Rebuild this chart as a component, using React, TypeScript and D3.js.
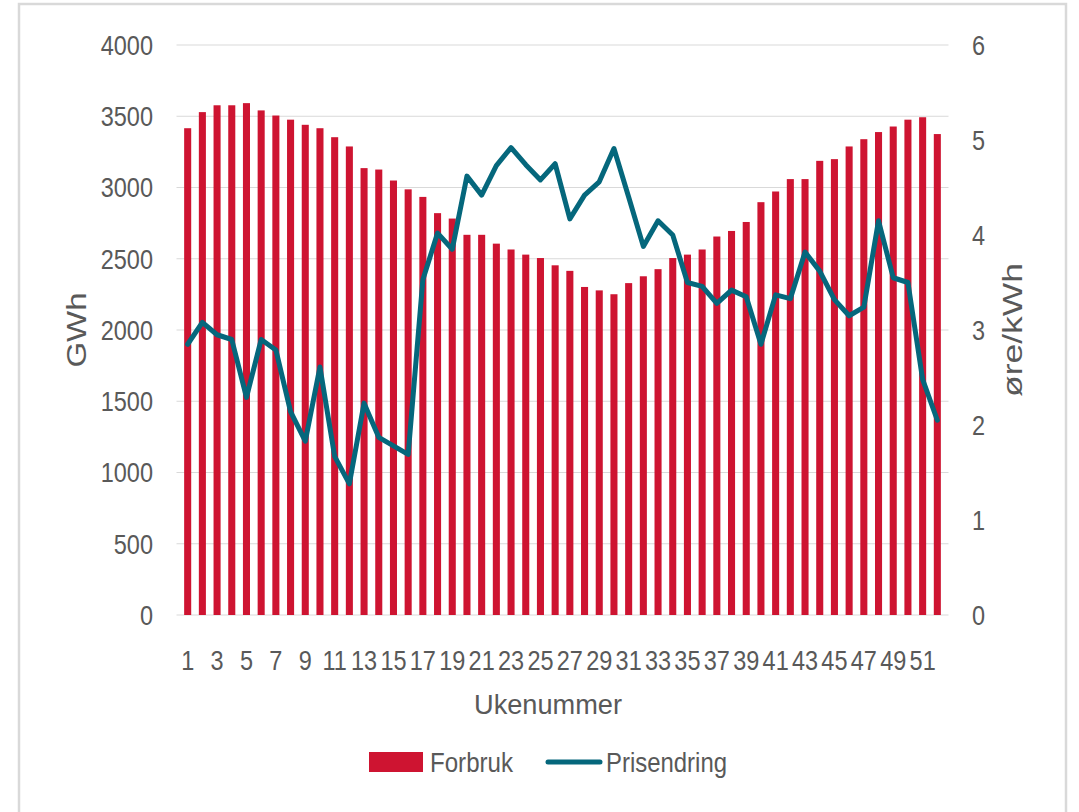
import React from "react";
import * as d3 from "d3";

// weekly consumption (GWh) and price change (øre/kWh)
const weeks = d3.range(1, 53);
const forbruk = [
  3416, 3529, 3577, 3577, 3592, 3541, 3505, 3476, 3440, 3416,
  3353, 3288, 3136, 3126, 3049, 2987, 2934, 2820, 2782, 2668,
  2668, 2606, 2565, 2529, 2505, 2454, 2415, 2302, 2278, 2251,
  2329, 2377, 2427, 2505, 2529, 2565, 2656, 2695, 2758, 2897,
  2972, 3059, 3059, 3187, 3199, 3288, 3339, 3389, 3428, 3476,
  3493, 3375,
];
const prisendring = [
  2.85, 3.08, 2.95, 2.9, 2.29, 2.9, 2.79, 2.14, 1.83, 2.61,
  1.67, 1.38, 2.23, 1.87, 1.78, 1.69, 3.53, 4.02, 3.85, 4.62,
  4.42, 4.73, 4.92, 4.74, 4.58, 4.75, 4.17, 4.42, 4.56, 4.91,
  4.4, 3.88, 4.15, 4.0, 3.5, 3.46, 3.28, 3.42, 3.35, 2.85,
  3.37, 3.33, 3.82, 3.62, 3.32, 3.15, 3.24, 4.15, 3.55, 3.5,
  2.48, 2.05,
];
const leftTicks = [0, 500, 1000, 1500, 2000, 2500, 3000, 3500, 4000];
const rightTicks = [0, 1, 2, 3, 4, 5, 6];

const W = 1079;
const H = 812;
const font = "'Liberation Sans', Arial, sans-serif";
const textCol = "#595959";
const barCol = "#CE1431";
const lineCol = "#05677C";
const fs = 28;
const sx = 0.84; // condensed look

// narrow text: drawn at (x,y) squeezed horizontally
const N = ({ x, y, anchor = "start", children }: any) => (
  <text transform={`translate(${x},${y}) scale(${sx},1)`} dy="0.35em" textAnchor={anchor}
    fontSize={fs} fill={textCol}>{children}</text>
);

// word sized to a measured length
const L = ({ x, y, len, anchor = "start", rotate = 0, children }: any) => (
  <text transform={`translate(${x},${y}) rotate(${rotate})`} dy="0.35em" textAnchor={anchor}
    fontSize={fs} fill={textCol} textLength={len} lengthAdjust="spacingAndGlyphs">{children}</text>
);

const App = () => {
  const left = 176.5, right = 948.5, top = 45, bottom = 615;

  const x = d3.scaleBand<number>().domain(weeks).range([left, right]).padding(0.52);
  const yL = d3.scaleLinear().domain([0, 4000]).range([bottom, top]);
  const yR = d3.scaleLinear().domain([0, 6]).range([bottom, top]);
  const cx = (w: number) => (x(w) as number) + x.bandwidth() / 2;

  const line = d3.line<number>()
    .x((_, i) => cx(weeks[i]))
    .y(d => yR(d));

  return (
    <svg width={W} height={H} style={{ position: "absolute", left: 0, top: 0, background: "white" }}
      fontFamily={font}>
      <rect x={19} y={4} width={1047} height={H + 10} fill="white" stroke="#d9d9d9" strokeWidth={2.5} />

      {leftTicks.map(t => (
        <g key={"l" + t}>
          <line x1={left} x2={right} y1={yL(t)} y2={yL(t)} stroke="#d9d9d9" strokeWidth={1.2} />
          <N x={153} y={yL(t)} anchor="end">{t}</N>
        </g>
      ))}
      {rightTicks.map(t => (
        <N key={"r" + t} x={972} y={yR(t)}>{t}</N>
      ))}

      {weeks.map((w, i) => (
        <rect key={w} x={x(w)} y={yL(forbruk[i])} width={x.bandwidth()}
          height={bottom - yL(forbruk[i])} fill={barCol} />
      ))}

      <path d={line(prisendring) || ""} fill="none" stroke={lineCol} strokeWidth={5}
        strokeLinejoin="round" strokeLinecap="round" />

      {weeks.filter(w => w % 2 === 1).map(w => (
        <N key={"x" + w} x={cx(w)} y={660} anchor="middle">{w}</N>
      ))}

      <L x={548} y={704} len={148} anchor="middle">Ukenummer</L>
      <L x={76} y={330} len={75} anchor="middle" rotate={-90}>GWh</L>
      <L x={1012} y={330} len={134} anchor="middle" rotate={-90}>øre/kWh</L>

      <rect x={369} y={752} width={54} height={20} fill={barCol} />
      <L x={430} y={762} len={83}>Forbruk</L>
      <line x1={548} x2={600} y1={762} y2={762} stroke={lineCol} strokeWidth={5} strokeLinecap="round" />
      <L x={606} y={762} len={121}>Prisendring</L>
    </svg>
  );
};

export default App;
